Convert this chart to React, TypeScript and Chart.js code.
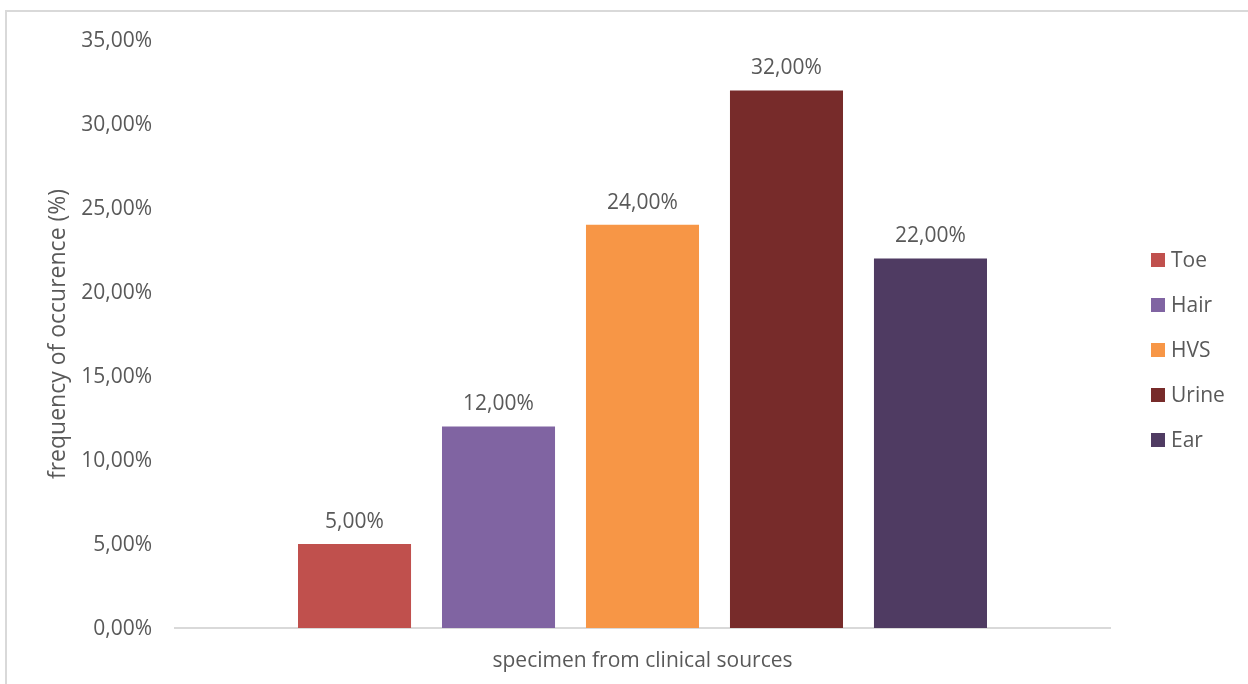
import React, { useEffect, useRef } from "react";
import { Chart, registerables } from "chart.js";

Chart.register(...registerables);

const categories = ["specimen from clinical sources"];
const seriesNames = ["Toe", "Hair", "HVS", "Urine", "Ear"];
const seriesValues = [5, 12, 24, 32, 22];
const seriesColors = ["#C0504D", "#8064A2", "#F79646", "#772B2A", "#4F3B62"];
const yTicks = [0, 5, 10, 15, 20, 25, 30, 35];
const yTitle = "frequency of occurence (%)";

const TEXT = "#595959";
const FONT = "'Open Sans', 'Noto Sans', sans-serif";

const fmt = (v: number) => v.toFixed(2).replace(".", ",") + "%";

const framePlugin = {
  id: "frame",
  beforeDraw(chart: any) {
    const ctx = chart.ctx;
    ctx.save();
    ctx.fillStyle = "#ffffff";
    ctx.fillRect(0, 0, chart.width, chart.height);
    ctx.fillStyle = "#d9d9d9";
    ctx.fillRect(5, 10, 2, chart.height - 10);
    ctx.fillRect(5, 10, chart.width - 5, 2);
    ctx.restore();
  },
};

const labelsPlugin = {
  id: "valueLabels",
  afterDatasetsDraw(chart: any) {
    const ctx = chart.ctx;
    ctx.save();
    ctx.font = `21px ${FONT}`;
    ctx.fillStyle = TEXT;
    ctx.textAlign = "center";
    ctx.textBaseline = "middle";
    chart.data.datasets.forEach((ds: any, i: number) => {
      const meta = chart.getDatasetMeta(i);
      meta.data.forEach((el: any, j: number) => {
        ctx.fillText(fmt(ds.data[j]), el.x, el.y - 22);
      });
    });
    ctx.restore();
  },
};

const legendPlugin = {
  id: "customLegend",
  afterDraw(chart: any) {
    const ctx = chart.ctx;
    ctx.save();
    ctx.font = `21px ${FONT}`;
    ctx.textBaseline = "middle";
    ctx.textAlign = "left";
    const x0 = 1151;
    const y0 = 260;
    const step = 45;
    chart.data.datasets.forEach((ds: any, i: number) => {
      const y = y0 + i * step;
      ctx.fillStyle = ds.backgroundColor;
      ctx.fillRect(x0, y - 7, 14, 14);
      ctx.fillStyle = TEXT;
      ctx.fillText(ds.label, x0 + 20, y + 1);
    });
    ctx.restore();
  },
};

export default function App() {
  const ref = useRef<HTMLCanvasElement | null>(null);

  useEffect(() => {
    if (!ref.current) return;
    const chart = new Chart(ref.current, {
      type: "bar",
      data: {
        labels: categories,
        datasets: seriesNames.map((name, i) => ({
          label: name,
          data: [seriesValues[i]],
          backgroundColor: seriesColors[i],
          borderWidth: 0,
          categoryPercentage: 0.77,
          barPercentage: 0.785,
        })),
      },
      options: {
        responsive: false,
        animation: false,
        layout: { padding: { left: 0, top: 40, right: 138, bottom: 0 } },
        plugins: {
          legend: { display: false },
          tooltip: { enabled: false },
        },
        scales: {
          x: {
            grid: { display: false, drawTicks: false },
            border: { display: true, color: "#d9d9d9", width: 2 },
            ticks: {
              color: TEXT,
              font: { family: FONT, size: 21 },
              padding: 20,
            },
            afterFit: (s: any) => {
              s.height = 56;
            },
          },
          y: {
            min: 0,
            max: 35,
            grid: { display: false, drawTicks: false },
            border: { display: false },
            afterBuildTicks: (s: any) => {
              s.ticks = yTicks.map((v) => ({ value: v }));
            },
            ticks: {
              color: TEXT,
              font: { family: FONT, size: 21 },
              padding: 23,
              labelOffset: 1,
              callback: (v: any) => fmt(Number(v)),
            },
            title: {
              display: true,
              text: yTitle,
              color: TEXT,
              font: { family: FONT, size: 23 },
              padding: { top: 45, bottom: 0 },
            },
            afterFit: (s: any) => {
              s.width = 175;
            },
          },
        },
      },
      plugins: [framePlugin, labelsPlugin, legendPlugin],
    });
    return () => chart.destroy();
  }, []);

  return (
    <div style={{ position: "fixed", left: 0, top: 0, width: 1248, height: 684, background: "#fff" }}>
      <canvas ref={ref} width={1248} height={684} />
    </div>
  );
}
